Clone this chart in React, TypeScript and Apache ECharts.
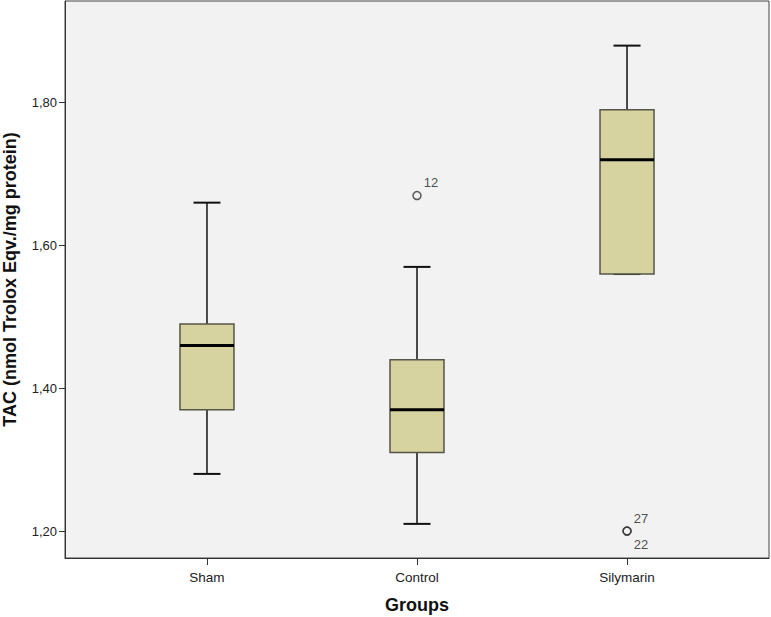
import React, { useEffect, useRef } from "react";
import * as echarts from "echarts";

const categories = ["Sham", "Control", "Silymarin"];
const whiskerLow = [1.28, 1.21, 1.56];
const q1 = [1.37, 1.31, 1.56];
const median = [1.46, 1.37, 1.72];
const q3 = [1.49, 1.44, 1.79];
const whiskerHigh = [1.66, 1.57, 1.88];
const outlierGroup = [1, 2, 2];
const outlierValue = [1.67, 1.2, 1.2];
const outlierId = ["12", "27", "22"];
const yTicks = [1.2, 1.4, 1.6, 1.8];

const FONT = "Liberation Sans, Arial, sans-serif";

export default function App() {
  const ref = useRef<HTMLDivElement>(null);
  useEffect(() => {
    if (!ref.current) return;
    const chart = echarts.init(ref.current, undefined, { renderer: "svg" });
    const boxData = categories.map((_, i) => [i, whiskerLow[i], q1[i], median[i], q3[i], whiskerHigh[i]]);
    const outlierData = outlierId.map((id, k) => ({
      value: [outlierGroup[k], outlierValue[k], id],
      label: { offset: [0, k === 2 ? 13 : -13] },
    }));
    const option: any = {
      animation: false,
      backgroundColor: "#ffffff",
      grid: {
        left: 65,
        top: 1,
        width: 704,
        height: 557,
        show: true,
        backgroundColor: "#f2f2f2",
        borderColor: "#444",
        borderWidth: 1,
        containLabel: false,
        outerBoundsMode: "none",
      },
      xAxis: {
        type: "value",
        min: -0.676,
        max: 2.676,
        splitLine: { show: false },
        axisLine: { show: true, onZero: false, lineStyle: { color: "#333", width: 1 } },
        axisTick: { show: true, length: 7, customValues: [0, 1, 2], lineStyle: { color: "#333" } },
        axisLabel: {
          customValues: [0, 1, 2],
          formatter: (v: number) => categories[Math.round(v)] ?? "",
          color: "#222",
          fontSize: 13.5,
          fontFamily: FONT,
          margin: 12,
        },
        name: "Groups",
        nameLocation: "middle",
        nameGap: 38,
        nameTextStyle: { fontSize: 18, fontWeight: "bold", color: "#111", fontFamily: FONT },
      },
      yAxis: {
        type: "value",
        min: 1.1622,
        max: 1.9425,
        splitLine: { show: false },
        axisLine: { show: true, onZero: false, lineStyle: { color: "#333", width: 1 } },
        axisTick: { show: true, length: 6, customValues: yTicks, lineStyle: { color: "#333" } },
        axisLabel: {
          customValues: yTicks,
          formatter: (v: number) => v.toFixed(2).replace(".", ","),
          color: "#222",
          fontSize: 13,
          fontFamily: FONT,
          margin: 8,
        },
        name: "TAC (nmol Trolox Eqv./mg protein)",
        nameLocation: "middle",
        nameGap: 46,
        nameTextStyle: { fontSize: 18, fontWeight: "bold", color: "#111", fontFamily: FONT },
      },
      series: [
        {
          type: "custom",
          data: boxData,
          encode: { x: 0, y: [1, 2, 3, 4, 5] },
          renderItem: (params: any, api: any) => {
            const x = api.value(0);
            const lo = api.coord([x, api.value(1)]);
            const b1 = api.coord([x, api.value(2)]);
            const md = api.coord([x, api.value(3)]);
            const b3 = api.coord([x, api.value(4)]);
            const hi = api.coord([x, api.value(5)]);
            const cx = lo[0];
            const bw = 54;
            const cw = 27;
            const lineStyle = { stroke: "#111", lineWidth: 1.5 };
            return {
              type: "group",
              children: [
                { type: "line", shape: { x1: cx, y1: b3[1], x2: cx, y2: hi[1] }, style: lineStyle },
                { type: "line", shape: { x1: cx, y1: b1[1], x2: cx, y2: lo[1] }, style: lineStyle },
                { type: "line", shape: { x1: cx - cw / 2, y1: hi[1], x2: cx + cw / 2, y2: hi[1] }, style: { stroke: "#111", lineWidth: 2 } },
                { type: "line", shape: { x1: cx - cw / 2, y1: lo[1], x2: cx + cw / 2, y2: lo[1] }, style: { stroke: "#111", lineWidth: 2 } },
                {
                  type: "rect",
                  shape: { x: cx - bw / 2, y: b3[1], width: bw, height: b1[1] - b3[1] },
                  style: { fill: "#d6d3a0", stroke: "#555548", lineWidth: 1.5 },
                },
                { type: "line", shape: { x1: cx - bw / 2, y1: md[1], x2: cx + bw / 2, y2: md[1] }, style: { stroke: "#000", lineWidth: 3 } },
              ],
            };
          },
        },
        {
          type: "scatter",
          data: outlierData,
          symbol: "circle",
          symbolSize: 8,
          itemStyle: { color: "rgba(0,0,0,0)", borderColor: "#333", borderWidth: 1.5 },
          label: {
            show: true,
            position: "right",
            distance: 2,
            formatter: (p: any) => p.value[2],
            color: "#222",
            fontSize: 13,
            fontFamily: FONT,
          },
        },
      ],
    };
    chart.setOption(option);
    return () => chart.dispose();
  }, []);
  return (
    <div
      ref={ref}
      style={{ width: 771, height: 617, position: "absolute", left: 0, top: 0, background: "#fff" }}
    />
  );
}
